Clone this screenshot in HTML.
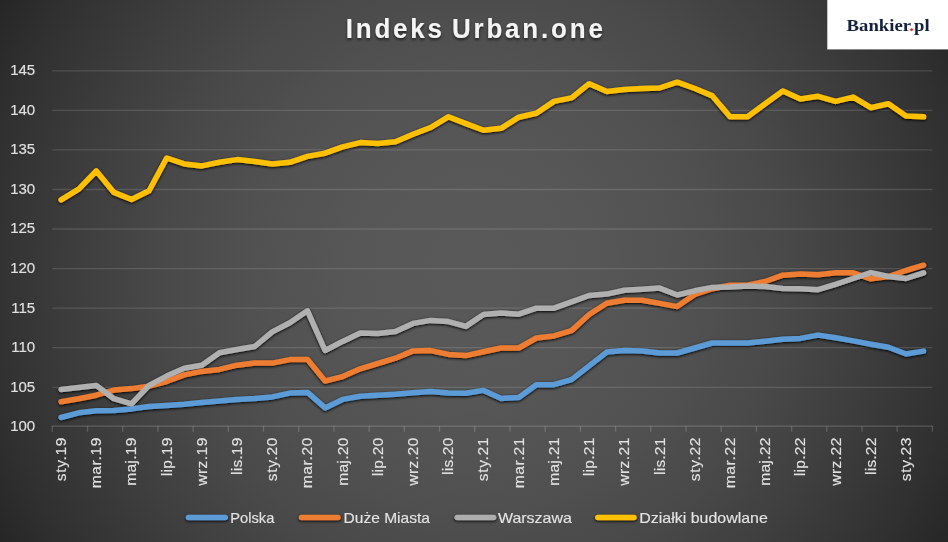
<!DOCTYPE html>
<html><head><meta charset="utf-8"><title>Indeks Urban.one</title>
<style>
html,body{margin:0;padding:0;background:#2e2e2e;}
body{width:948px;height:542px;overflow:hidden;position:relative;font-family:"Liberation Sans",sans-serif;}
svg{position:absolute;left:0;top:0;display:block;}
.ax{font-family:"Liberation Sans",sans-serif;font-size:15.5px;fill:#e0e0e0;}
.xl{}
.ax,.lg{stroke:#e0e0e0;stroke-width:0.15px;}
.ttl{font-family:"Liberation Sans",sans-serif;font-weight:bold;font-size:28px;fill:#f4f4f4;word-spacing:-3px;}
.lg{font-family:"Liberation Sans",sans-serif;font-size:15px;fill:#e4e4e4;}
.logo{font-family:"Liberation Serif",serif;font-weight:bold;font-size:17.6px;fill:#14213d;}
</style></head><body>
<svg width="948" height="542" viewBox="0 0 948 542">
<defs>
<radialGradient id="bg" cx="474" cy="271" r="546" gradientUnits="userSpaceOnUse">
<stop offset="0.00" stop-color="#595959"/>
<stop offset="0.05" stop-color="#595959"/>
<stop offset="0.10" stop-color="#585858"/>
<stop offset="0.15" stop-color="#585858"/>
<stop offset="0.20" stop-color="#575757"/>
<stop offset="0.25" stop-color="#565656"/>
<stop offset="0.30" stop-color="#545454"/>
<stop offset="0.35" stop-color="#535353"/>
<stop offset="0.40" stop-color="#515151"/>
<stop offset="0.45" stop-color="#4f4f4f"/>
<stop offset="0.50" stop-color="#4c4c4c"/>
<stop offset="0.55" stop-color="#4a4a4a"/>
<stop offset="0.60" stop-color="#474747"/>
<stop offset="0.65" stop-color="#434343"/>
<stop offset="0.70" stop-color="#404040"/>
<stop offset="0.75" stop-color="#3c3c3c"/>
<stop offset="0.80" stop-color="#383838"/>
<stop offset="0.85" stop-color="#343434"/>
<stop offset="0.90" stop-color="#303030"/>
<stop offset="0.95" stop-color="#2b2b2b"/>
<stop offset="1.00" stop-color="#262626"/>
</radialGradient>
<filter id="sh" filterUnits="userSpaceOnUse" x="0" y="0" width="948" height="542">
<feGaussianBlur in="SourceAlpha" stdDeviation="1.5"/>
<feOffset dx="0" dy="0.9" result="b"/>
<feComponentTransfer><feFuncA type="linear" slope="1"/></feComponentTransfer>
<feMerge><feMergeNode/><feMergeNode in="SourceGraphic"/></feMerge>
</filter>
<filter id="tsh" filterUnits="userSpaceOnUse" x="0" y="0" width="948" height="542">
<feGaussianBlur in="SourceAlpha" stdDeviation="1.5"/>
<feOffset dx="0" dy="1.5"/>
<feComponentTransfer><feFuncA type="linear" slope="0.6"/></feComponentTransfer>
<feMerge><feMergeNode/><feMergeNode in="SourceGraphic"/></feMerge>
</filter>
</defs>
<rect x="0" y="0" width="948" height="542" fill="#2d2d2d"/>
<rect x="0" y="0" width="948" height="542" fill="url(#bg)"/>

<g stroke="#ffffff" stroke-opacity="0.13" stroke-width="1.3" fill="none">
<line x1="52.3" y1="387.3" x2="932.4" y2="387.3"/>
<line x1="52.3" y1="347.7" x2="932.4" y2="347.7"/>
<line x1="52.3" y1="308.2" x2="932.4" y2="308.2"/>
<line x1="52.3" y1="268.6" x2="932.4" y2="268.6"/>
<line x1="52.3" y1="229.0" x2="932.4" y2="229.0"/>
<line x1="52.3" y1="189.5" x2="932.4" y2="189.5"/>
<line x1="52.3" y1="149.9" x2="932.4" y2="149.9"/>
<line x1="52.3" y1="110.4" x2="932.4" y2="110.4"/>
<line x1="52.3" y1="70.8" x2="932.4" y2="70.8"/>
</g>
<g stroke="#ffffff" stroke-opacity="0.18" stroke-width="1.3" fill="none">
<line x1="51.7" y1="426.2" x2="933.0" y2="426.2"/>
<line x1="52.3" y1="426.2" x2="52.3" y2="431.7"/>
<line x1="87.5" y1="426.2" x2="87.5" y2="431.7"/>
<line x1="122.7" y1="426.2" x2="122.7" y2="431.7"/>
<line x1="157.9" y1="426.2" x2="157.9" y2="431.7"/>
<line x1="193.1" y1="426.2" x2="193.1" y2="431.7"/>
<line x1="228.3" y1="426.2" x2="228.3" y2="431.7"/>
<line x1="263.5" y1="426.2" x2="263.5" y2="431.7"/>
<line x1="298.7" y1="426.2" x2="298.7" y2="431.7"/>
<line x1="333.9" y1="426.2" x2="333.9" y2="431.7"/>
<line x1="369.1" y1="426.2" x2="369.1" y2="431.7"/>
<line x1="404.3" y1="426.2" x2="404.3" y2="431.7"/>
<line x1="439.5" y1="426.2" x2="439.5" y2="431.7"/>
<line x1="474.7" y1="426.2" x2="474.7" y2="431.7"/>
<line x1="510.0" y1="426.2" x2="510.0" y2="431.7"/>
<line x1="545.2" y1="426.2" x2="545.2" y2="431.7"/>
<line x1="580.4" y1="426.2" x2="580.4" y2="431.7"/>
<line x1="615.6" y1="426.2" x2="615.6" y2="431.7"/>
<line x1="650.8" y1="426.2" x2="650.8" y2="431.7"/>
<line x1="686.0" y1="426.2" x2="686.0" y2="431.7"/>
<line x1="721.2" y1="426.2" x2="721.2" y2="431.7"/>
<line x1="756.4" y1="426.2" x2="756.4" y2="431.7"/>
<line x1="791.6" y1="426.2" x2="791.6" y2="431.7"/>
<line x1="826.8" y1="426.2" x2="826.8" y2="431.7"/>
<line x1="862.0" y1="426.2" x2="862.0" y2="431.7"/>
<line x1="897.2" y1="426.2" x2="897.2" y2="431.7"/>
<line x1="932.4" y1="426.2" x2="932.4" y2="431.7"/>
</g>
<g class="ax" text-anchor="end">
<text x="35.2" y="430.6" style="font-size:15px">100</text>
<text x="35.2" y="391.7" style="font-size:15px">105</text>
<text x="35.2" y="352.1" style="font-size:15px">110</text>
<text x="35.2" y="312.6" style="font-size:15px">115</text>
<text x="35.2" y="273.0" style="font-size:15px">120</text>
<text x="35.2" y="233.4" style="font-size:15px">125</text>
<text x="35.2" y="193.9" style="font-size:15px">130</text>
<text x="35.2" y="154.3" style="font-size:15px">135</text>
<text x="35.2" y="114.8" style="font-size:15px">140</text>
<text x="35.2" y="75.2" style="font-size:15px">145</text>
</g>
<g class="ax xl" text-anchor="end">
<text transform="translate(66.0,437.7) rotate(-90)" textLength="43.5" lengthAdjust="spacing">sty.19</text>
<text transform="translate(101.2,437.7) rotate(-90)" textLength="50.6" lengthAdjust="spacing">mar.19</text>
<text transform="translate(136.4,437.7) rotate(-90)" textLength="48.1" lengthAdjust="spacing">maj.19</text>
<text transform="translate(171.6,437.7) rotate(-90)" textLength="38.5" lengthAdjust="spacing">lip.19</text>
<text transform="translate(206.8,437.7) rotate(-90)" textLength="48.1" lengthAdjust="spacing">wrz.19</text>
<text transform="translate(242.0,437.7) rotate(-90)" textLength="37.2" lengthAdjust="spacing">lis.19</text>
<text transform="translate(277.2,437.7) rotate(-90)" textLength="43.5" lengthAdjust="spacing">sty.20</text>
<text transform="translate(312.4,437.7) rotate(-90)" textLength="50.6" lengthAdjust="spacing">mar.20</text>
<text transform="translate(347.6,437.7) rotate(-90)" textLength="48.1" lengthAdjust="spacing">maj.20</text>
<text transform="translate(382.8,437.7) rotate(-90)" textLength="38.5" lengthAdjust="spacing">lip.20</text>
<text transform="translate(418.0,437.7) rotate(-90)" textLength="48.1" lengthAdjust="spacing">wrz.20</text>
<text transform="translate(453.2,437.7) rotate(-90)" textLength="37.2" lengthAdjust="spacing">lis.20</text>
<text transform="translate(488.4,437.7) rotate(-90)" textLength="43.5" lengthAdjust="spacing">sty.21</text>
<text transform="translate(523.7,437.7) rotate(-90)" textLength="50.6" lengthAdjust="spacing">mar.21</text>
<text transform="translate(558.9,437.7) rotate(-90)" textLength="48.1" lengthAdjust="spacing">maj.21</text>
<text transform="translate(594.1,437.7) rotate(-90)" textLength="38.5" lengthAdjust="spacing">lip.21</text>
<text transform="translate(629.3,437.7) rotate(-90)" textLength="48.1" lengthAdjust="spacing">wrz.21</text>
<text transform="translate(664.5,437.7) rotate(-90)" textLength="37.2" lengthAdjust="spacing">lis.21</text>
<text transform="translate(699.7,437.7) rotate(-90)" textLength="43.5" lengthAdjust="spacing">sty.22</text>
<text transform="translate(734.9,437.7) rotate(-90)" textLength="50.6" lengthAdjust="spacing">mar.22</text>
<text transform="translate(770.1,437.7) rotate(-90)" textLength="48.1" lengthAdjust="spacing">maj.22</text>
<text transform="translate(805.3,437.7) rotate(-90)" textLength="38.5" lengthAdjust="spacing">lip.22</text>
<text transform="translate(840.5,437.7) rotate(-90)" textLength="48.1" lengthAdjust="spacing">wrz.22</text>
<text transform="translate(875.7,437.7) rotate(-90)" textLength="37.2" lengthAdjust="spacing">lis.22</text>
<text transform="translate(910.9,437.7) rotate(-90)" textLength="43.5" lengthAdjust="spacing">sty.23</text>
</g>
<g fill="none" stroke-width="5.5" stroke-linecap="round" stroke-linejoin="round" filter="url(#sh)">
<polyline stroke="#5b9bd5" points="61.1,417.5 78.7,412.8 96.3,410.7 113.9,410.4 131.5,408.9 149.1,406.5 166.7,405.4 184.3,404.2 201.9,402.6 219.5,401.1 237.1,399.5 254.7,398.4 272.3,396.9 289.9,393.1 307.5,392.4 325.1,407.9 342.7,399.4 360.3,396.2 377.9,395.2 395.5,394.2 413.1,392.7 430.7,391.5 448.3,393.1 465.9,393.2 483.5,390.4 501.2,398.4 518.8,397.4 536.4,384.7 554.0,384.7 571.6,379.7 589.2,365.9 606.8,352.1 624.4,350.5 642.0,350.9 659.6,353.0 677.2,353.0 694.8,348.0 712.4,343.0 730.0,343.0 747.6,343.0 765.2,341.2 782.8,339.3 800.4,338.4 818.0,335.1 835.6,337.8 853.2,340.9 870.8,344.2 888.4,347.3 906.0,354.0 923.6,351.1"/>
<polyline stroke="#ed7d31" points="61.1,401.8 78.7,398.7 96.3,395.2 113.9,390.1 131.5,388.6 149.1,386.2 166.7,381.5 184.3,374.9 201.9,371.4 219.5,369.4 237.1,365.2 254.7,363.1 272.3,363.1 289.9,359.6 307.5,359.6 325.1,381.0 342.7,376.6 360.3,368.8 377.9,363.5 395.5,358.2 413.1,350.9 430.7,350.6 448.3,354.4 465.9,355.6 483.5,351.7 501.2,348.0 518.8,348.0 536.4,338.0 554.0,335.9 571.6,330.6 589.2,314.5 606.8,303.3 624.4,300.2 642.0,300.2 659.6,303.4 677.2,306.6 694.8,294.4 712.4,288.7 730.0,285.2 747.6,285.2 765.2,281.5 782.8,275.2 800.4,273.9 818.0,274.8 835.6,272.8 853.2,272.8 870.8,278.9 888.4,276.5 906.0,270.5 923.6,265.2"/>
<polyline stroke="#b0b0b0" points="61.1,389.4 78.7,387.4 96.3,385.4 113.9,398.7 131.5,403.8 149.1,385.4 166.7,376.1 184.3,368.3 201.9,365.2 219.5,352.7 237.1,349.5 254.7,346.5 272.3,331.9 289.9,322.8 307.5,310.8 325.1,350.5 342.7,341.4 360.3,332.9 377.9,333.5 395.5,331.5 413.1,323.4 430.7,320.4 448.3,321.6 465.9,326.4 483.5,314.5 501.2,313.1 518.8,314.2 536.4,308.2 554.0,308.2 571.6,301.8 589.2,295.5 606.8,294.1 624.4,290.2 642.0,289.2 659.6,288.1 677.2,295.0 694.8,290.8 712.4,287.4 730.0,287.0 747.6,286.0 765.2,286.5 782.8,288.5 800.4,288.7 818.0,289.7 835.6,284.4 853.2,278.5 870.8,272.6 888.4,276.5 906.0,278.5 923.6,272.8"/>
<polyline stroke="#ffc000" points="61.1,199.9 78.7,189.2 96.3,171.0 113.9,192.4 131.5,199.5 149.1,190.8 166.7,158.0 184.3,163.9 201.9,165.9 219.5,162.3 237.1,159.6 254.7,161.6 272.3,163.9 289.9,162.3 307.5,156.4 325.1,153.2 342.7,146.9 360.3,142.6 377.9,143.4 395.5,141.8 413.1,134.3 430.7,127.5 448.3,116.8 465.9,123.6 483.5,130.3 501.2,128.3 518.8,117.2 536.4,113.3 554.0,101.4 571.6,97.9 589.2,83.7 606.8,91.5 624.4,89.6 642.0,88.5 659.6,88.0 677.2,82.2 694.8,88.5 712.4,95.9 730.0,116.8 747.6,116.8 765.2,103.8 782.8,91.1 800.4,99.0 818.0,96.3 835.6,101.4 853.2,97.1 870.8,107.7 888.4,103.8 906.0,116.1 923.6,116.8"/>
</g>
<g filter="url(#tsh)"><text class="ttl" transform="translate(474.3,37.7) scale(0.93,1)" x="0" y="0" text-anchor="middle" textLength="276.5" lengthAdjust="spacing">Indeks Urban.one</text></g>
<rect x="827.3" y="0" width="121" height="49.4" fill="#ffffff"/>
<text class="logo" x="846.6" y="30.9" textLength="83" lengthAdjust="spacingAndGlyphs">Bankier<tspan fill="#d9262c">.</tspan>pl</text>
<g filter="url(#sh)" stroke-width="5.5" stroke-linecap="round" fill="none">
<line x1="188.5" y1="517.4" x2="225.3" y2="517.4" stroke="#5b9bd5"/>
<line x1="301.5" y1="517.4" x2="338.0" y2="517.4" stroke="#ed7d31"/>
<line x1="457.2" y1="517.4" x2="493.6" y2="517.4" stroke="#adadad"/>
<line x1="597.8" y1="517.4" x2="634.0" y2="517.4" stroke="#ffc000"/>
</g>
<g class="lg">
<text x="230.3" y="522.6" textLength="44.0" lengthAdjust="spacingAndGlyphs">Polska</text>
<text x="343.5" y="522.6" textLength="86.5" lengthAdjust="spacingAndGlyphs">Duże Miasta</text>
<text x="497.9" y="522.6" textLength="74.0" lengthAdjust="spacingAndGlyphs">Warszawa</text>
<text x="639.3" y="522.6" textLength="128.5" lengthAdjust="spacingAndGlyphs">Działki budowlane</text>
</g>
</svg></body></html>
